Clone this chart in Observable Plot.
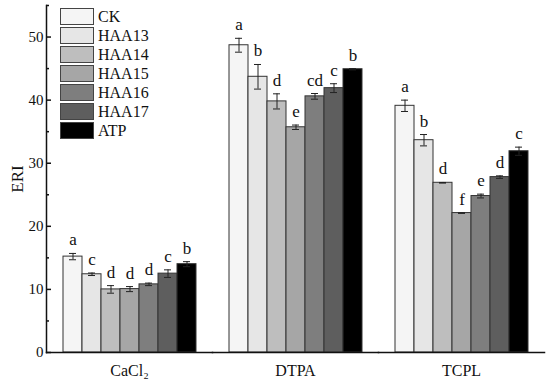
<!DOCTYPE html>
<html>
<head>
<meta charset="utf-8">
<script src="https://cdn.jsdelivr.net/npm/d3@7"></script>
<script src="https://cdn.jsdelivr.net/npm/@observablehq/plot@0.6"></script>
<style>
  body { margin: 0; background: #fff; }
  #wrap { position: relative; width: 550px; height: 384px; font-family: "Liberation Serif", "Times New Roman", serif; }
  #wrap svg, #wrap svg text { font-family: "Liberation Serif", "Times New Roman", serif !important; }
  #legend { position: absolute; left: 60px; top: 7px; }
  .item { display: flex; align-items: center; height: 19px; font-size: 16px; color: #111; }
  .sw { width: 32px; height: 15px; border: 1px solid #444; margin-right: 4px; }
</style>
</head>
<body>
<div id="wrap"><div id="legend"></div></div>
<script>
const groups = ["CaCl₂", "DTPA", "TCPL"];
const treatments = ["CK", "HAA13", "HAA14", "HAA15", "HAA16", "HAA17", "ATP"];
const colors = ["#f5f5f5", "#e6e6e6", "#bebebe", "#a6a6a6", "#7e7e7e", "#5e5e5e", "#000000"];

const cacl2Means = [15.2, 12.4, 10.0, 10.05, 10.8, 12.5, 14.0];
const cacl2Errs = [0.5, 0.2, 0.6, 0.4, 0.2, 0.6, 0.4];
const cacl2Letters = ["a", "c", "d", "d", "d", "c", "b"];

const dtpaMeans = [48.7, 43.7, 39.8, 35.7, 40.6, 41.9, 44.9];
const dtpaErrs = [1.1, 1.95, 1.2, 0.35, 0.45, 0.7, 0.1];
const dtpaLetters = ["a", "b", "d", "e", "cd", "c", "b"];

const tcplMeans = [39.1, 33.65, 26.9, 22.1, 24.8, 27.8, 31.9];
const tcplErrs = [0.9, 0.9, 0.05, 0.05, 0.3, 0.2, 0.65];
const tcplLetters = ["a", "b", "d", "f", "e", "d", "c"];

const majorTicks = [0, 10, 20, 30, 40, 50];
const minorTicks = [5, 15, 25, 35, 45, 55];

const series = [
  [cacl2Means, cacl2Errs, cacl2Letters],
  [dtpaMeans, dtpaErrs, dtpaLetters],
  [tcplMeans, tcplErrs, tcplLetters]
];
const data = [];
groups.forEach((g, gi) => {
  const [m, e, l] = series[gi];
  treatments.forEach((t, ti) => {
    data.push({group: g, treatment: t, value: m[ti], err: e[ti], letter: l[ti],
               lo: m[ti] - e[ti], hi: m[ti] + e[ti]});
  });
});

const font = "'Liberation Serif', 'Times New Roman', serif";

const chart = Plot.plot({
  width: 550,
  height: 384,
  marginLeft: 45,
  marginRight: 5,
  marginTop: 5,
  marginBottom: 32,
  style: {fontFamily: font, fontSize: "16px", color: "#111", background: "white"},
  fx: {domain: groups, paddingInner: 0, paddingOuter: 0, label: null},
  x: {domain: treatments, paddingInner: 0, paddingOuter: 0.82, axis: null},
  y: {domain: [0, 55]},
  color: {domain: treatments, range: colors},
  marks: [
    Plot.barY(data, {fx: "group", x: "treatment", y: "value", fill: "treatment", stroke: "#333", strokeWidth: 1, inset: 0}),
    Plot.ruleX(data, {fx: "group", x: "treatment", y1: "lo", y2: "hi", stroke: "#222", strokeWidth: 1}),
    Plot.tickY(data, {fx: "group", x: "treatment", y: "lo", stroke: "#222", strokeWidth: 1, inset: 6}),
    Plot.tickY(data, {fx: "group", x: "treatment", y: "hi", stroke: "#222", strokeWidth: 1, inset: 6}),
    Plot.text(data, {fx: "group", x: "treatment", y: "hi", text: "letter", lineAnchor: "bottom", dy: -8, fontSize: 17, fontFamily: font, fill: "#111"}),
    Plot.axisY({ticks: majorTicks, tickSize: -5, tickPadding: 8, fontSize: 15, fontFamily: font, label: null, strokeWidth: 1.5}),
    Plot.axisY({ticks: minorTicks, tickSize: -3, tickFormat: () => "", label: null, strokeWidth: 1.5}),
    Plot.axisY({ticks: [], label: "ERI", labelAnchor: "center", labelArrow: "none", labelOffset: 36, fontSize: 17, fontFamily: font}),
    Plot.axisFx({anchor: "bottom", tickSize: 0, tickPadding: 12, fontSize: 16, fontFamily: font, label: null}),
    Plot.frame({anchor: "left", facetAnchor: "left", stroke: "#111", strokeWidth: 1.5}),
    Plot.frame({anchor: "bottom", stroke: "#111", strokeWidth: 1.5})
  ]
});
document.getElementById("wrap").prepend(chart);

const legend = document.getElementById("legend");
treatments.forEach((t, i) => {
  const row = document.createElement("div");
  row.className = "item";
  const sw = document.createElement("div");
  sw.className = "sw";
  sw.style.background = colors[i];
  row.appendChild(sw);
  row.appendChild(document.createTextNode(t));
  legend.appendChild(row);
});
</script>
</body>
</html>
